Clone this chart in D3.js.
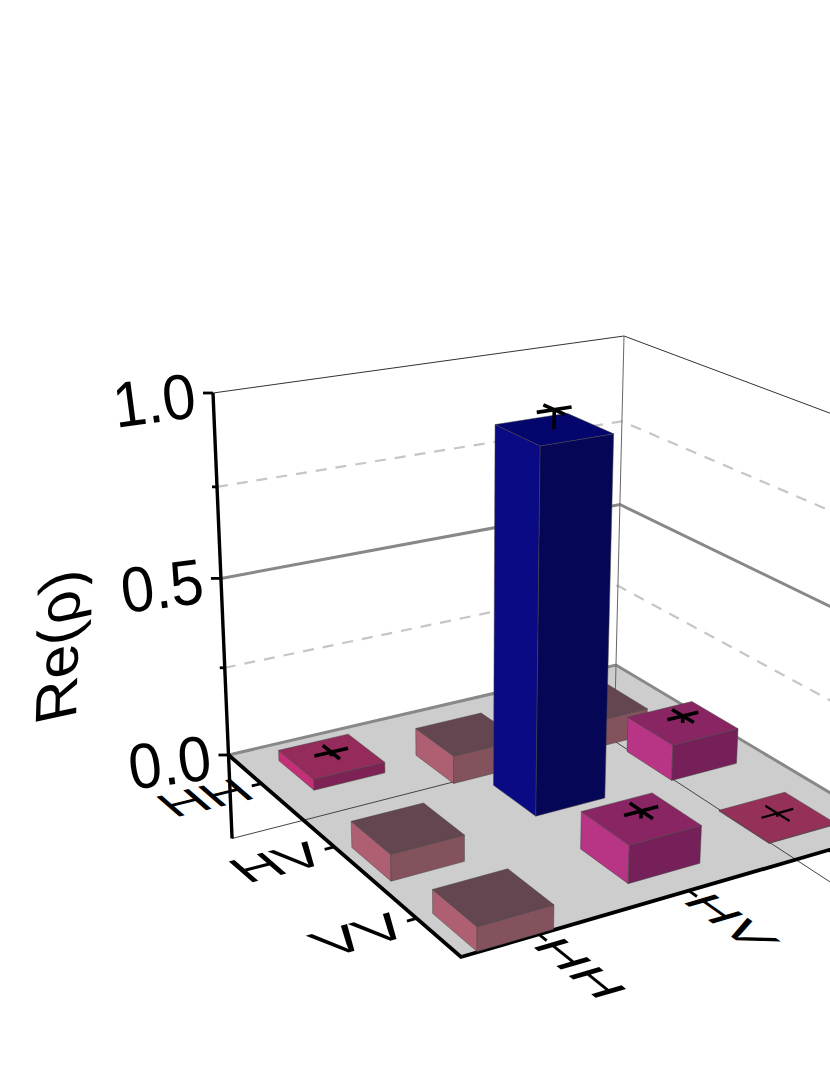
<!DOCTYPE html>
<html>
<head>
<meta charset="utf-8">
<script src="https://cdn.jsdelivr.net/npm/d3@7"></script>
<style>
  html, body { margin: 0; padding: 0; background: #fff; }
  svg { display: block; }
  text { font-family: "Liberation Sans", Arial, sans-serif; fill: #000; }
</style>
</head>
<body>
<svg id="chart" width="830" height="1075"></svg>
<script>
'use strict';

// data; the brown bars hang below the floor
var basisLabels = ['HH', 'HV', 'VV'];
var zTickValues = [0, 0.25, 0.5, 0.75, 1];
var zTickLabels = ['0.0', '', '0.5', '', '1.0'];
var rowHH = [0.03, -0.08, -0.08];
var rowHV = [-0.072, 0.975, 0.1];
var rowVV = [-0.063, 0.1, 0.002];
var errHH = [0.012, 0, 0];
var errHV = [0, 0.05, 0.02];
var errVV = [0, 0.02, 0.01];

var heights = [rowHH, rowHV, rowVV];
var errors = [errHH, errHV, errVV];

var width = 830, height = 1075, zMin = -0.245;

// corners of the floor and of the top of the box on the page
var floorQuad = [[228.5, 755], [616, 665], [894, 831], [461, 957]];
var topQuad = [[213, 393], [624, 336], [923, 448], [459, 533]];

var svg = d3.select('#chart');

function quadMap(q) {
  var dx1 = q[1][0] - q[2][0], dx2 = q[3][0] - q[2][0], dx3 = q[0][0] - q[1][0] + q[2][0] - q[3][0];
  var dy1 = q[1][1] - q[2][1], dy2 = q[3][1] - q[2][1], dy3 = q[0][1] - q[1][1] + q[2][1] - q[3][1];
  var den = dx1 * dy2 - dx2 * dy1;
  var g = (dx3 * dy2 - dx2 * dy3) / den, h = (dx1 * dy3 - dx3 * dy1) / den;
  var a = q[1][0] - q[0][0] + g * q[1][0], b = q[3][0] - q[0][0] + h * q[3][0];
  var d = q[1][1] - q[0][1] + g * q[1][1], e = q[3][1] - q[0][1] + h * q[3][1];
  return function(u, v) {
    var w = g * u + h * v + 1;
    return [(a * u + b * v + q[0][0]) / w, (d * u + e * v + q[0][1]) / w];
  };
}

var floorMap = quadMap(floorQuad), topMap = quadMap(topQuad);

// z foreshortens a little with distance from the camera
function zWeight(z) {
  return z / (z + 1.05 * (1 - z));
}

function project(u, v, z) {
  var f = floorMap(u, v), t = topMap(u, v), k = zWeight(z);
  return [f[0] + (t[0] - f[0]) * k, f[1] + (t[1] - f[1]) * k];
}

var band = d3.scaleBand().domain(d3.range(3)).range([0, 1]).paddingInner(0.5).paddingOuter(0.2425);
var line = d3.line();

function poly(points) {
  return line(points) + 'Z';
}

function seg(p, q) {
  return line([p, q]);
}

function unit(p, q) {
  var n = Math.hypot(q[0] - p[0], q[1] - p[1]);
  return [(q[0] - p[0]) / n, (q[1] - p[1]) / n];
}

// page length of a small step along the floor, relative to the middle of the same edge
function edgeScale(a, b) {
  var n = Math.hypot(b[0] - a[0], b[1] - a[1]);
  return n;
}

function wallPath(z) {
  return line([project(0, 0, z), project(1, 0, z), project(1, 1, z)]);
}

// walls
var walls = svg.append('g').attr('fill', 'none');
walls.append('path').attr('d', wallPath(1)).attr('stroke', '#333').attr('stroke-width', 1);
zTickValues.filter(function(z) { return z === 0.25 || z === 0.75; }).forEach(function(z) {
  walls.append('path').attr('d', wallPath(z))
    .attr('stroke', '#c6c6c6').attr('stroke-width', 2.2).attr('stroke-dasharray', '11,9');
});
walls.append('path').attr('d', wallPath(0.5)).attr('stroke', '#888').attr('stroke-width', 3);

// floor
svg.append('path')
  .attr('d', poly([project(0, 0, 0), project(1, 0, 0), project(1, 1, 0), project(0, 1, 0)]))
  .attr('fill', '#cdcdcd');
svg.append('path').attr('d', wallPath(0)).attr('fill', 'none').attr('stroke', '#888').attr('stroke-width', 3);

// thin lines of the box below the floor
svg.append('path').attr('d', wallPath(zMin)).attr('fill', 'none').attr('stroke', '#444').attr('stroke-width', 1);
svg.append('path').attr('d', seg(project(1, 0, 1), project(1, 0, zMin)))
  .attr('fill', 'none').attr('stroke', '#666').attr('stroke-width', 1);

// axes
var axes = svg.append('g').attr('fill', 'none').attr('stroke', '#000');
axes.append('path').attr('d', seg(project(0, 0, 1), project(0, 0, zMin))).attr('stroke-width', 3.4);
axes.append('path').attr('d', line([project(0, 0, 0), project(0, 1, 0), project(1, 1, 0)]))
  .attr('stroke-width', 3.8).attr('stroke-linejoin', 'miter');

zTickValues.forEach(function(z, i) {
  var p = project(0, 0, z);
  var len = zTickLabels[i] ? 10 : 5;
  axes.append('path').attr('d', seg([p[0] - len, p[1]], [p[0], p[1]])).attr('stroke-width', 2.8);
  if (zTickLabels[i]) {
    svg.append('text')
      .attr('transform', 'translate(' + (p[0] - 15) + ',' + (p[1] + 24) + ') rotate(-7.5) scale(0.93,1)')
      .attr('text-anchor', 'end')
      .attr('font-size', 64)
      .text(zTickLabels[i]);
  }
});

svg.append('text')
  .attr('transform', 'matrix(0.03,-1,0.977,-0.21,' + 76 + ',' + 718 + ')')
  .attr('font-size', 60)
  .text('Re(\u03c1)');

// tick marks and labels lying on the floor plane
basisLabels.forEach(function(name, i) {
  var c = band(i) + band.bandwidth() / 2;

  var pr = project(0, c, 0);
  var ru = unit(pr, project(0.1, c, 0));
  var rv = unit(pr, project(0, c + 0.1, 0));
  var rs = edgeScale(pr, project(0.1, c, 0)) / edgeScale(project(0, 0.5, 0), project(0.1, 0.5, 0));
  axes.append('path').attr('d', seg([pr[0] - ru[0] * 10, pr[1] - ru[1] * 10], pr)).attr('stroke-width', 2.8);
  svg.append('text')
    .attr('transform', 'matrix(' + [ru[0] * 1.35 * rs, ru[1] * 1.35 * rs, rv[0] * rs, rv[1] * rs, pr[0] - ru[0] * 16, pr[1] - ru[1] * 16].join(',') + ')')
    .attr('text-anchor', 'end')
    .attr('dy', '0.36em')
    .attr('font-size', 46)
    .text(name);

  var pc = project(c, 1, 0);
  var cu = unit(pc, project(c + 0.1, 1, 0));
  var cv = unit(pc, project(c, 1.1, 0));
  axes.append('path').attr('d', seg(pc, [pc[0] + cv[0] * 10, pc[1] + cv[1] * 10])).attr('stroke-width', 2.8);
  // the last column label falls past the right edge of the picture
  if (pc[0] < width - 20) {
    svg.append('text')
      .attr('transform', 'matrix(' + [cv[0] * 1.35, cv[1] * 1.35, -cu[0], -cu[1], pc[0] + cv[0] * 9, pc[1] + cv[1] * 9].join(',') + ')')
      .attr('dy', '0.36em')
      .attr('font-size', 46)
      .text(name);
  }
});

// face colours: near-unity bar, negative bar, nearly flat, thin, ordinary
function faceColours(h) {
  if (h > 0.5) return {top: '#05056e', left: '#0a0a85', right: '#060656'};
  if (h < 0) return {top: '#63464f', left: '#ae6072', right: '#84525d'};
  if (h < 0.01) return {top: '#953059', left: '#953059', right: '#953059'};
  if (h < 0.05) return {top: '#942b5b', left: '#c43078', right: '#7e2255'};
  return {top: '#8a2563', left: '#b83485', right: '#752059'};
}

var cells = d3.cross(d3.range(3), d3.range(3), function(r, c) {
  return {row: r, col: c, h: heights[r][c], err: errors[r][c]};
});
// painter's order, far corner first
cells.sort(function(a, b) { return d3.descending(a.col - a.row, b.col - b.row); });

var bars = svg.selectAll('g.bar').data(cells).join('g').attr('class', 'bar');

bars.each(function(d) {
  var g = d3.select(this);
  var u0 = band(d.col), u1 = u0 + band.bandwidth();
  var v0 = band(d.row), v1 = v0 + band.bandwidth();
  var zLow = Math.min(0, d.h), zHigh = Math.max(0, d.h);
  var colours = faceColours(d.h);
  var faces = [
    {fill: colours.left, pts: [project(u0, v0, zLow), project(u0, v1, zLow), project(u0, v1, zHigh), project(u0, v0, zHigh)]},
    {fill: colours.right, pts: [project(u0, v1, zLow), project(u1, v1, zLow), project(u1, v1, zHigh), project(u0, v1, zHigh)]},
    {fill: colours.top, pts: [project(u0, v0, zHigh), project(u1, v0, zHigh), project(u1, v1, zHigh), project(u0, v1, zHigh)]}
  ];
  faces.forEach(function(f) {
    g.append('path').attr('d', poly(f.pts)).attr('fill', f.fill)
      .attr('stroke', '#444').attr('stroke-opacity', 0.7).attr('stroke-width', 0.7);
  });

  if (d.err) {
    var um = (u0 + u1) / 2, vm = (v0 + v1) / 2, cap = 0.04;
    var ze = d.h + d.err;
    var sw = d.h < 0.01 ? 2.2 : 3.6;
    g.append('g').attr('fill', 'none').attr('stroke', '#000').attr('stroke-width', sw)
      .selectAll('path')
      .data([
        seg(project(um, vm, d.h), project(um, vm, ze)),
        seg(project(um - cap, vm, ze), project(um + cap, vm, ze)),
        seg(project(um, vm - cap, ze), project(um, vm + cap, ze))
      ])
      .join('path')
      .attr('d', function(p) { return p; });
  }
});
</script>
</body>
</html>
